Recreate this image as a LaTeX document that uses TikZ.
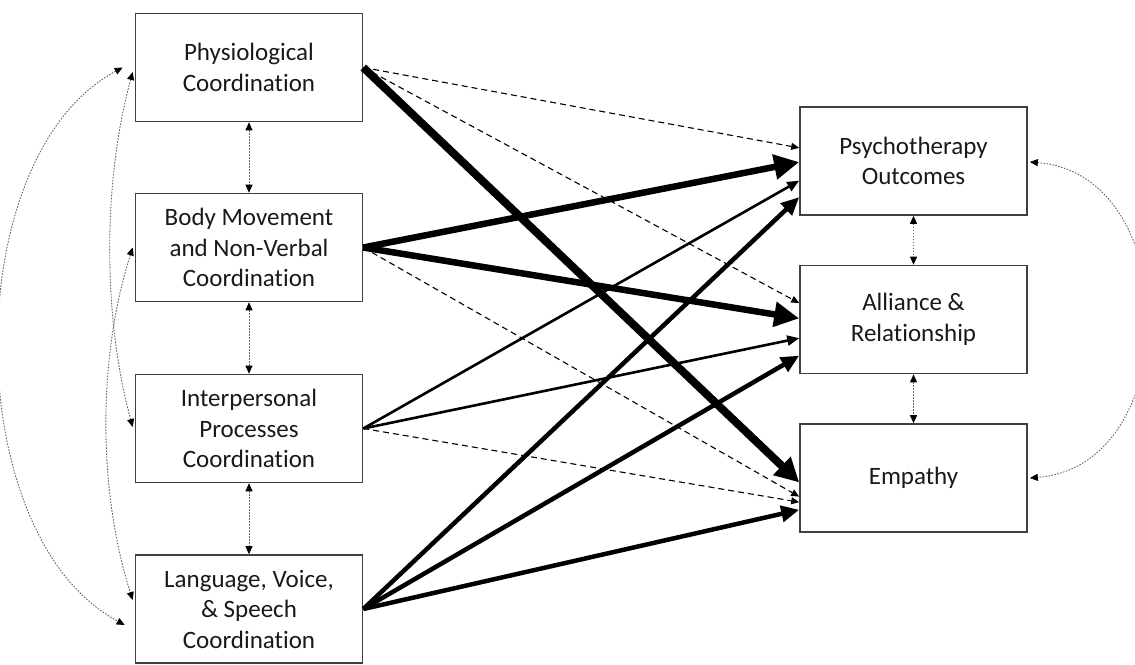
\documentclass[tikz,border=0pt]{standalone}
\usepackage{fontspec}
\setmainfont[Ligatures=NoCommon]{Carlito}
\usetikzlibrary{arrows.meta,calc}
\begin{document}
\begin{tikzpicture}[x=1pt,y=-1pt,
  box/.style={draw=black!75, line width=1.6pt, minimum width=227pt, minimum height=108pt,
    align=center, font=\fontsize{25}{30.5}\selectfont, text=black!90, inner sep=0pt},
  dotarrow/.style={draw=black!60, line width=0.9pt, dash pattern=on 1.6pt off 1.4pt,
    {Triangle[length=8pt,width=7pt,color=black]}-{Triangle[length=8pt,width=7pt,color=black]}},
  sone/.style={line width=8pt, -{Triangle[length=24pt,width=24pt]}},
  stwo/.style={line width=6.5pt, -{Triangle[length=25pt,width=24pt]}},
  sthree/.style={line width=4.5pt, -{Triangle[length=18pt,width=16pt]}},
  sfour/.style={line width=2.6pt, -{Triangle[length=12pt,width=10pt]}},
  sdash/.style={line width=1.1pt, dash pattern=on 6pt off 4pt, -{Triangle[length=8pt,width=7pt]}}
]
\useasboundingbox (0,0) rectangle (1135,664);

% left boxes
\node[box] (P) at (249,67.5) {Physiological\\Coordination};
\node[box] (B) at (249,247.5) {Body Movement\\and Non-Verbal\\Coordination};
\node[box] (I) at (249,428.5) {Interpersonal\\Processes\\Coordination};
\node[box] (L) at (249,609) {Language, Voice,\\\& Speech\\Coordination};
% right boxes
\node[box] (PO) at (913.5,161) {Psychotherapy\\Outcomes};
\node[box] (AR) at (913.5,319.5) {Alliance \&\\Relationship};
\node[box] (E) at (913.5,478) {Empathy};

% dotted correlations
\draw[dotarrow] (P.south) -- (B.north);
\draw[dotarrow] (B.south) -- (I.north);
\draw[dotarrow] (I.south) -- (L.north);
\draw[dotarrow] (PO.south) -- (AR.north);
\draw[dotarrow] (AR.south) -- (E.north);
\draw[dotarrow] ($(P.west)+(-12,0)$) .. controls +(-165,88) and +(-167,-90) .. ($(L.west)+(-10,16)$);
\draw[dotarrow] ($(P.west)+(-2,4.5)$) .. controls +(-30,110) and +(-30,-110) .. ($(I.west)+(-2,-1.5)$);
\draw[dotarrow] ($(B.west)+(-2,0)$) .. controls +(-35,110) and +(-35,-110) .. ($(L.west)+(-2,-9)$);
\draw[dotarrow] ($(PO.east)+(2,1)$) .. controls +(155,12) and +(155,-12) .. ($(E.east)+(2,0)$);

% paths
\draw[sdash] (P.east) -- ($(PO.north west)!0.38!(PO.south west)$);
\draw[sdash] (P.east) -- ($(AR.north west)!0.35!(AR.south west)$);
\draw[sdash] (B.east) -- ($(E.north west)!0.67!(E.south west)$);
\draw[sdash] (I.east) -- ($(E.north west)!0.72!(E.south west)$);
\draw[sfour] (I.east) -- ($(PO.north west)!0.68!(PO.south west)$);
\draw[sfour] (I.east) -- ($(AR.north west)!0.67!(AR.south west)$);
\draw[sthree] (L.east) -- ($(PO.north west)!0.83!(PO.south west)$);
\draw[sthree] (L.east) -- ($(AR.north west)!0.83!(AR.south west)$);
\draw[sthree] (L.east) -- ($(E.north west)!0.79!(E.south west)$);
\draw[stwo] (B.east) -- ($(PO.north west)!0.51!(PO.south west)$);
\draw[stwo] (B.east) -- ($(AR.north west)!0.49!(AR.south west)$);
\draw[sone] (P.east) -- ($(E.north west)!0.54!(E.south west)$);
\end{tikzpicture}
\end{document}
